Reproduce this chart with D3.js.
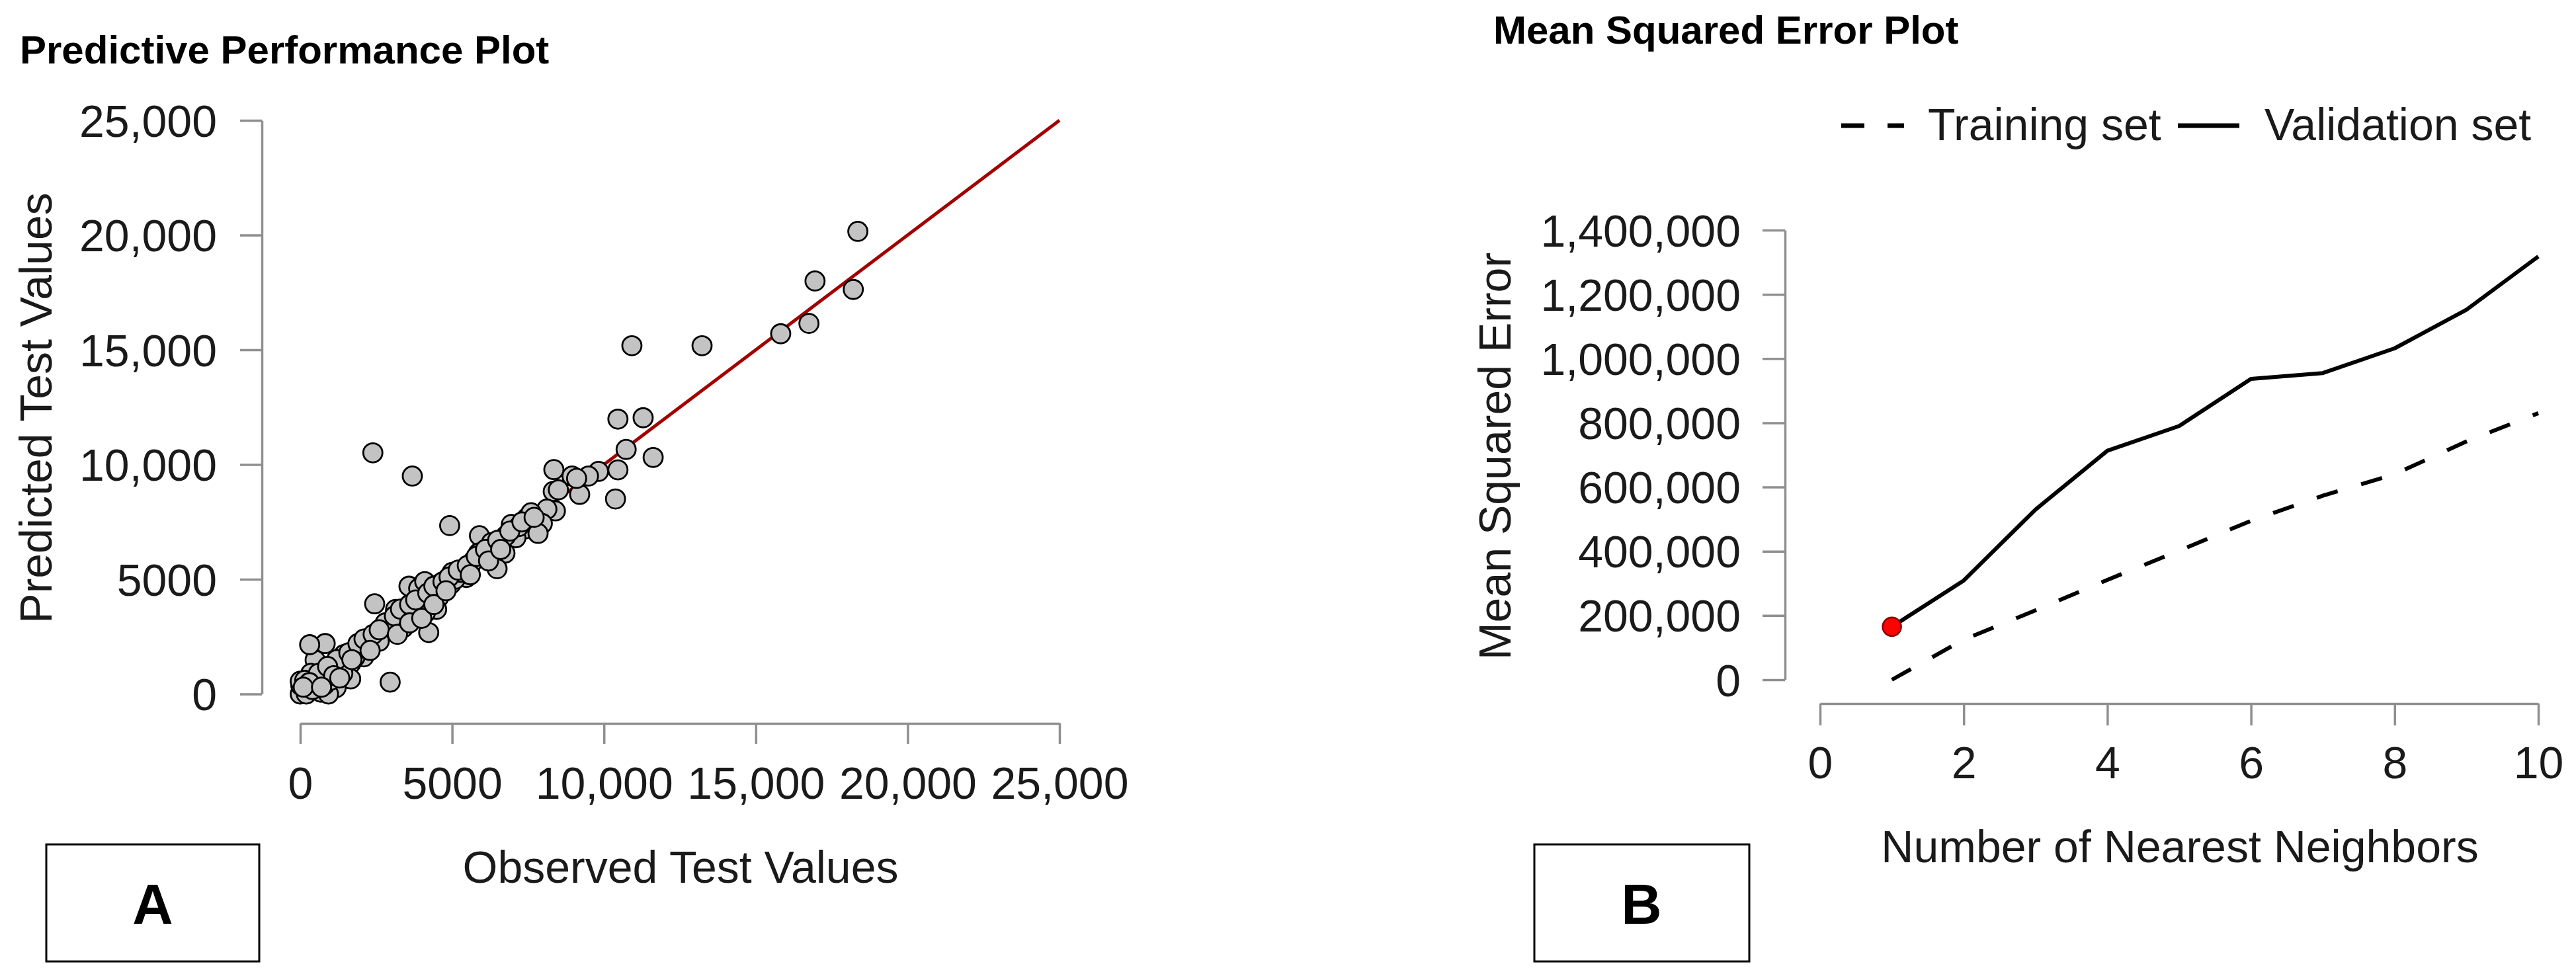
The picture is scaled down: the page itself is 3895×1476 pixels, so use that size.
<!DOCTYPE html>
<html><head><meta charset="utf-8">
<script src="https://cdn.jsdelivr.net/npm/d3@7"></script>
<style>html,body{margin:0;padding:0;background:#fff;} svg{display:block;}</style>
</head><body>
<svg id="chart" width="3895" height="1476"></svg>
<script>
// ---------- Panel A data ----------
const observedValues = [
  18360,16950,18210,15820,16750,10920,13230,10460,11290,10730,11620,10460,10380,9820,9490,8950,9200,8350,8330,8400,
  8120,7970,7460,7390,7830,6950,7100,6770,6740,6480,6230,5900,5870,5580,5430,4960,4310,3580,3690,2390,4920,
  5470,4560,4490,4120,3830,3540,3900,3250,2890,2670,4230,3140,2450,2310,2090,1870,1440,1660,1110,490,820,310,930,
  1660,490,1180,0,20,200,0,680,930,2960,
  1300,1500,1800,2000,2200,2500,2700,3000,3300,3700,4000,4300,4600,5100,5300,5700,6000,6300,7200,7600,8500,9100,
  250,600,800,1000,350,150,400,1400,2600,3400,4100,5000,
  1200,1600,1900,2100,2400,2800,3100,3300,3600,3800,4200,4400,4700,4900,5200,5500,5800,6100,6500,6900,7300,7700,
  600,900,1100,300,100,700,1300,1700,2300,2600,3200,3600,4000,4400,4800,5600,6200,6600
];
const predictedValues = [
  20160,18000,17630,15700,16150,15180,15180,11980,12040,10660,10310,9770,8500,9700,9500,9500,8700,9780,8830,7980,
  8060,7430,7670,7190,7000,7390,6810,6900,6140,5460,6330,6900,6140,5510,5180,4790,4550,4700,9500,10510,7340,
  5080,4220,3690,3540,3450,3250,4600,2970,2780,2580,2680,3690,3930,2290,1620,1910,1720,1330,1310,1480,2200,2150,850,
  660,470,280,0,370,0,560,80,0,520,
  1100,1400,1600,2000,2100,2500,2900,3100,3300,3600,3900,4100,4800,5000,5300,5800,6100,6600,7300,7900,8900,9400,
  300,700,400,600,900,600,200,900,2300,2900,4900,5300,
  1500,1800,2200,2400,2600,3100,3400,3700,3900,4100,4400,4700,4900,5100,5400,5600,6000,6300,6700,7100,7500,7700,
  900,1200,800,500,300,300,700,1500,1900,2800,2600,3100,3300,3900,4500,5200,5800,6300
];
const identityLine = [0, 25000];
const perfTicks = [0, 5000, 10000, 15000, 20000, 25000];
const perfTickLabels = ["0", "5000", "10,000", "15,000", "20,000", "25,000"];

// ---------- Panel B data ----------
const neighbors = [1, 2, 3, 4, 5, 6, 7, 8, 9, 10];
const trainingMSE = [0, 125000, 216000, 311000, 402000, 495000, 573000, 640000, 742000, 830000];
const validationMSE = [165000, 309000, 530000, 713000, 790000, 937000, 955000, 1032000, 1152000, 1318000];
const optimalK = 1;
const mseTicks = [0, 200000, 400000, 600000, 800000, 1000000, 1200000, 1400000];
const mseTickLabels = ["0", "200,000", "400,000", "600,000", "800,000", "1,000,000", "1,200,000", "1,400,000"];
const kTicks = [0, 2, 4, 6, 8, 10];
const kTickLabels = ["0", "2", "4", "6", "8", "10"];
const legendLabels = ["Training set", "Validation set"];

const FONT = "'Liberation Sans', Arial, Helvetica, sans-serif";
const AXIS_COL = "#8f8f8f";
const TEXT_COL = "#1a1a1a";

const svg = d3.select("#chart").style("font-family", FONT);
svg.append("rect").attr("width", 3895).attr("height", 1476).attr("fill", "#fff");

function styleAxis(g) {
  g.selectAll(".domain").attr("stroke", AXIS_COL).attr("stroke-width", 3.5);
  g.selectAll(".tick line").attr("stroke", AXIS_COL).attr("stroke-width", 3.5);
  g.selectAll(".tick text").attr("fill", TEXT_COL).style("font-size", "68px").style("font-family", FONT);
}

// ================= Panel A =================
const xA = d3.scaleLinear().domain([0, 25000]).range([454, 1602]);
const yA = d3.scaleLinear().domain([0, 25000]).range([1049.6, 182]);

svg.append("text").attr("x", 30).attr("y", 96)
  .attr("font-weight", "bold").attr("font-size", 60).attr("fill", "#000")
  .text("Predictive Performance Plot");

const gyA = svg.append("g").attr("transform", "translate(396,0)")
  .call(d3.axisLeft(yA).tickValues(perfTicks).tickFormat((d, i) => perfTickLabels[i])
    .tickSize(33).tickSizeOuter(0).tickPadding(35));
styleAxis(gyA);
gyA.selectAll(".tick text").attr("dy", "0.355em");

const gxA = svg.append("g").attr("transform", "translate(0,1094)")
  .call(d3.axisBottom(xA).tickValues(perfTicks).tickFormat((d, i) => perfTickLabels[i])
    .tickSize(31).tickSizeOuter(0).tickPadding(35));
styleAxis(gxA);

svg.append("text").attr("x", 1029).attr("y", 1335).attr("text-anchor", "middle")
  .attr("font-size", 68).attr("fill", TEXT_COL).text("Observed Test Values");
svg.append("text").attr("transform", "translate(78,617) rotate(-90)").attr("text-anchor", "middle")
  .attr("font-size", 68).attr("fill", TEXT_COL).text("Predicted Test Values");

svg.append("line")
  .attr("x1", xA(identityLine[0])).attr("y1", yA(identityLine[0]))
  .attr("x2", xA(identityLine[1])).attr("y2", yA(identityLine[1]))
  .attr("stroke", "#a30000").attr("stroke-width", 5);

const pts = observedValues.map((v, i) => [v, predictedValues[i]]);
svg.append("g").selectAll("circle").data(pts).join("circle")
  .attr("cx", d => xA(d[0])).attr("cy", d => yA(d[1])).attr("r", 14.5)
  .attr("fill", "#c3c3c3").attr("stroke", "#000").attr("stroke-width", 2.8);

// Box A
svg.append("rect").attr("x", 70).attr("y", 1277).attr("width", 322).attr("height", 177)
  .attr("fill", "none").attr("stroke", "#000").attr("stroke-width", 3);
svg.append("text").attr("x", 231).attr("y", 1397).attr("text-anchor", "middle")
  .attr("font-weight", "bold").attr("font-size", 85).attr("fill", "#000").text("A");

// ================= Panel B =================
const xB = d3.scaleLinear().domain([0, 10]).range([2752, 3838]);
const yB = d3.scaleLinear().domain([0, 1400000]).range([1028, 348]);

svg.append("text").attr("x", 2258).attr("y", 66)
  .attr("font-weight", "bold").attr("font-size", 60).attr("fill", "#000")
  .text("Mean Squared Error Plot");

const gyB = svg.append("g").attr("transform", "translate(2699,0)")
  .call(d3.axisLeft(yB).tickValues(mseTicks).tickFormat((d, i) => mseTickLabels[i])
    .tickSize(34).tickSizeOuter(0).tickPadding(33));
styleAxis(gyB);
gyB.selectAll(".tick text").attr("dy", "0.355em");

const gxB = svg.append("g").attr("transform", "translate(0,1064)")
  .call(d3.axisBottom(xB).tickValues(kTicks).tickFormat((d, i) => kTickLabels[i])
    .tickSize(33).tickSizeOuter(0).tickPadding(32));
styleAxis(gxB);

svg.append("text").attr("x", 3296).attr("y", 1304).attr("text-anchor", "middle")
  .attr("font-size", 68).attr("fill", TEXT_COL).text("Number of Nearest Neighbors");
svg.append("text").attr("transform", "translate(2284,690) rotate(-90)").attr("text-anchor", "middle")
  .attr("font-size", 68).attr("fill", TEXT_COL).text("Mean Squared Error");

const lineGen = d3.line().x(d => xB(d[0])).y(d => yB(d[1]));
svg.append("path").datum(neighbors.map((k, i) => [k, trainingMSE[i]]))
  .attr("d", lineGen).attr("fill", "none").attr("stroke", "#000")
  .attr("stroke-width", 6).attr("stroke-dasharray", "33 37");
svg.append("path").datum(neighbors.map((k, i) => [k, validationMSE[i]]))
  .attr("d", lineGen).attr("fill", "none").attr("stroke", "#000")
  .attr("stroke-width", 6).attr("stroke-linejoin", "round");

const optIdx = neighbors.indexOf(optimalK);
svg.append("circle").attr("cx", xB(optimalK)).attr("cy", yB(validationMSE[optIdx])).attr("r", 14)
  .attr("fill", "#ff0000").attr("stroke", "#8a0000").attr("stroke-width", 2.5);

// Legend
const leg = svg.append("g");
leg.append("line").attr("x1", 2784).attr("x2", 2879).attr("y1", 190).attr("y2", 190)
  .attr("stroke", "#000").attr("stroke-width", 7).attr("stroke-dasharray", "35 35");
leg.append("text").attr("x", 2915).attr("y", 212).attr("font-size", 68).attr("fill", TEXT_COL).text(legendLabels[0]);
leg.append("line").attr("x1", 3293).attr("x2", 3386).attr("y1", 190).attr("y2", 190)
  .attr("stroke", "#000").attr("stroke-width", 7);
leg.append("text").attr("x", 3424).attr("y", 212).attr("font-size", 68).attr("fill", TEXT_COL).text(legendLabels[1]);

// Box B
svg.append("rect").attr("x", 2320).attr("y", 1277).attr("width", 325).attr("height", 177)
  .attr("fill", "none").attr("stroke", "#000").attr("stroke-width", 3);
svg.append("text").attr("x", 2482).attr("y", 1397).attr("text-anchor", "middle")
  .attr("font-weight", "bold").attr("font-size", 85).attr("fill", "#000").text("B");
</script>
</body></html>
